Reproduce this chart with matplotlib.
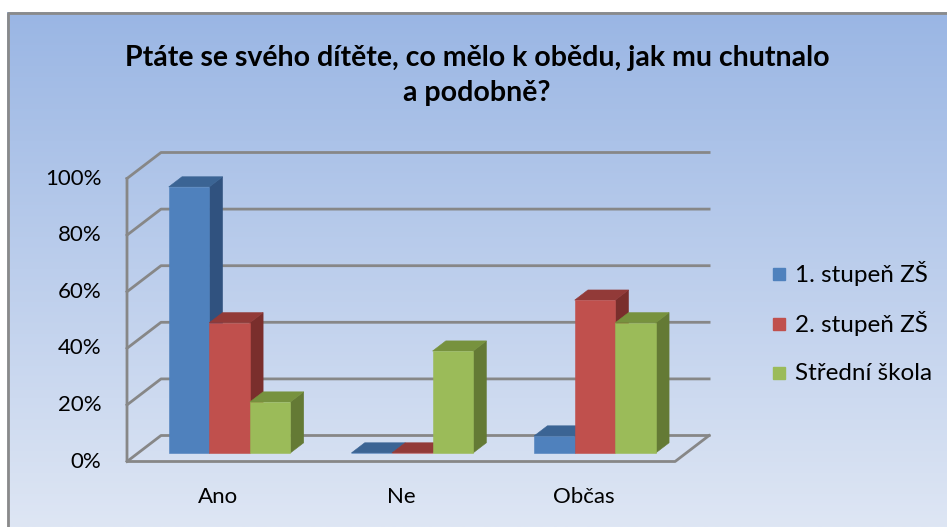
import numpy as np
import matplotlib.pyplot as plt
from matplotlib.patches import Polygon, Rectangle

# data (percent)
categories = ["Ano", "Ne", "Občas"]
series_names = ["1. stupeň ZŠ", "2. stupeň ZŠ", "Střední škola"]
stupen1 = [94, 0, 6]
stupen2 = [46, 0, 54]
stredni = [18, 36, 46]
ticks = [0, 20, 40, 60, 80, 100]
tick_labels = ["0%", "20%", "40%", "60%", "80%", "100%"]
title = "Ptáte se svého dítěte, co mělo k obědu, jak mu chutnalo\na podobně?"

series = [stupen1, stupen2, stredni]
# front, top, side colours
colors = [("#4F81BD", "#3B6494", "#30527F"),
          ("#C0504D", "#923A38", "#7A2E2C"),
          ("#9BBB59", "#77923E", "#647A35")]

plt.rcParams['font.family'] = ['Lato', 'DejaVu Sans']

W, H = 947, 527
fig = plt.figure(figsize=(W / 100, H / 100), dpi=100)

# background layer in pixel units
bg = fig.add_axes([0, 0, 1, 1])
bg.set_xlim(0, W)
bg.set_ylim(H, 0)
bg.axis('off')
top_c = np.array([0x9A, 0xB6, 0xE4]) / 255
bot_c = np.array([0xDE, 0xE6, 0xF4]) / 255
t = np.linspace(0, 1, 256)[:, None, None]
img = top_c + (bot_c - top_c) * t
bg.imshow(img, extent=(7, W, H, 12), aspect='auto', interpolation='bilinear')
bg.plot([7.5, 7.5, W], [H, 12.5, 12.5], color="#8A8A8A", lw=2)

bg.text(477, 75.5, title, ha='center', va='center', fontsize=20.5,
        fontweight='bold', linespacing=1.45)

for k, name in enumerate(series_names):
    yk = 274 + k * 49.5
    bg.add_patch(Rectangle((773, yk - 6), 12, 12, color=colors[k][0]))
    bg.text(795, yk, name, va='center', ha='left', fontsize=17.5)

# chart layer: x in category units, y in percent
ax = fig.add_axes([0, 0, 1, 1])
ax.patch.set_alpha(0)
ax.axis('off')
sx, sy = 182.7, 2.83     # pixels per unit
x0, y0 = 127, 461.5      # front-left origin in pixels
ax.set_xlim(-x0 / sx, (W - x0) / sx)
ax.set_ylim((y0 - H) / sy, y0 / sy)
ddx, ddy = 34 / sx, 26 / sy   # full depth offset


def P(x, v, d):
    return (x + d * ddx, v + d * ddy)


grid_c = "#878787"
ncat = len(categories)
for tk in ticks:
    pts = np.array([P(0, tk, 0), P(0, tk, 1), P(ncat, tk, 1)])
    ax.plot(pts[:, 0], pts[:, 1], color=grid_c, lw=2, zorder=1)
pts = np.array([P(0, ticks[-1], 0), P(0, 0, 0), P(ncat, 0, 0), P(ncat, 0, 1)])
ax.plot(pts[:, 0], pts[:, 1], color=grid_c, lw=2, zorder=5)

for tk, lab in zip(ticks, tick_labels):
    ax.text(-0.14, tk, lab, ha='right', va='center', fontsize=16)
for i, c in enumerate(categories):
    ax.text(i + 0.5, -12.5, c, ha='center', va='center', fontsize=16)

w = 0.222
gap = (1 - len(series) * w) / 2
df, db = 0.33, 0.72
for i in range(ncat):
    for j, vals in enumerate(series):
        v = vals[i]
        xl = i + gap + j * w
        xr = xl + w
        fc, tc, sc = colors[j]
        front = [P(xl, 0, df), P(xr, 0, df), P(xr, v, df), P(xl, v, df)]
        topf = [P(xl, v, df), P(xr, v, df), P(xr, v, db), P(xl, v, db)]
        side = [P(xr, 0, df), P(xr, 0, db), P(xr, v, db), P(xr, v, df)]
        for poly, col in ((side, sc), (topf, tc), (front, fc)):
            ax.add_patch(Polygon(poly, closed=True, facecolor=col,
                                 edgecolor=col, lw=0.4, zorder=3))

fig.savefig("out.png", dpi=100)
